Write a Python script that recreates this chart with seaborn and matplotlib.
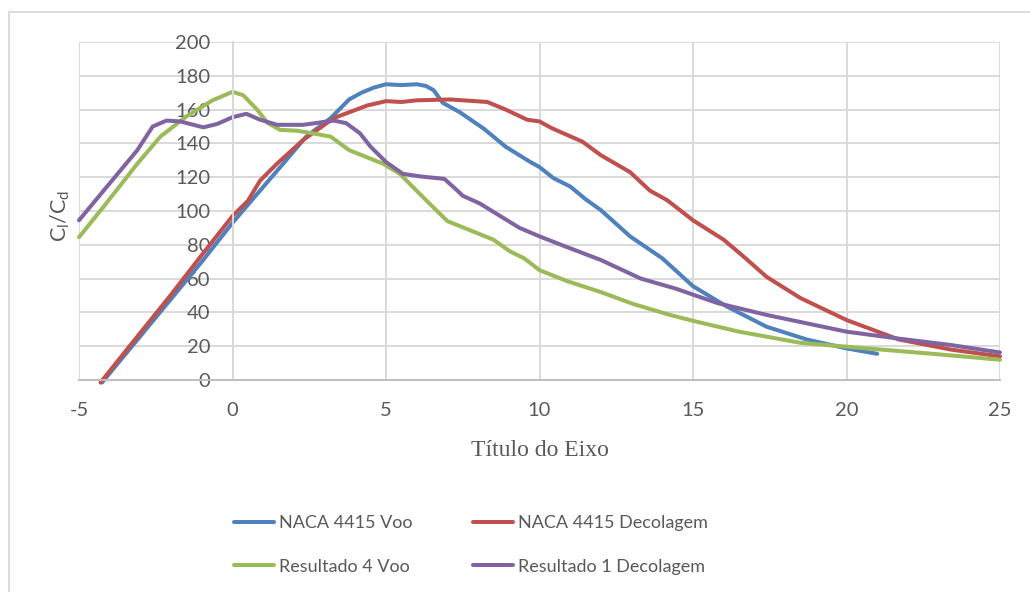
import matplotlib
matplotlib.use("Agg")
import matplotlib.pyplot as plt
import seaborn as sns
import pandas as pd
from matplotlib.lines import Line2D
from matplotlib.patches import Rectangle

# Series names and colours
series_names = ["NACA 4415 Voo", "NACA 4415 Decolagem", "Resultado 4 Voo", "Resultado 1 Decolagem"]
series_colors = ["#4F81BD", "#C0504D", "#9BBB59", "#8064A2"]

# NACA 4415 Voo
naca_voo_x = [-4.25, -3, -2, -1, 0, 0.8, 1.65, 2.4, 3.2, 3.8, 4.2, 4.6, 5.0, 5.5, 6.0, 6.3,
              6.55, 6.85, 7.4, 8.2, 8.9, 9.7, 10.0, 10.45, 11.0, 11.5, 12.0, 12.95, 14.0,
              15.0, 16.1, 17.4, 18.7, 20.0, 21.0]
naca_voo_y = [-1.5, 26, 48, 70, 93, 110, 128, 144, 155, 166, 170, 173, 175, 174.5, 175, 174,
              171.5, 164, 158.5, 148.5, 138, 129, 126, 119.5, 114.5, 107, 100.5, 85, 72,
              55.5, 43.5, 31.5, 24, 18.7, 15.5]

# NACA 4415 Decolagem
naca_dec_x = [-4.3, -3, -2, -1, 0, 0.5, 0.9, 1.45, 2.3, 3.3, 4.4, 5.0, 5.5, 6.0, 7.1, 8.3, 8.9,
              9.6, 10.0, 10.4, 11.4, 12.0, 12.95, 13.6, 14.15, 15.0, 16.0, 16.65, 17.4, 18.5,
              20.0, 21.7, 23.4, 25.0]
naca_dec_y = [-1.5, 28, 50.5, 74, 97, 106, 118, 128, 142, 155, 162.5, 165, 164.5, 165.5, 166,
              164.5, 160, 154, 153, 149, 141, 133, 123, 112, 106.5, 94.5, 83, 73, 61, 48.5,
              35.5, 24, 18, 14]

# Resultado 4 Voo
res4_x = [-5, -4.2, -3.1, -2.35, -1.5, -0.65, 0.0, 0.35, 0.8, 1.15, 1.55, 2.1, 2.6, 3.2, 3.8,
          4.9, 5.45, 6.3, 7.0, 8.3, 8.5, 9.05, 9.5, 10.0, 10.9, 12.0, 13.05, 14.25, 15.0,
          16.5, 18.5, 20.0, 22.8, 25.0]
res4_y = [84.5, 102.5, 128, 144, 156, 165.5, 170.5, 168.5, 160, 152, 148, 147.5, 146, 144, 136,
          128, 122, 106.5, 94, 84.5, 83, 76, 72, 65, 58.5, 52, 45, 38.5, 35, 28.6, 22, 19.7,
          15.5, 12]

# Resultado 1 Decolagem
res1_x = [-5, -4.2, -3.1, -2.6, -2.15, -1.7, -0.95, -0.5, 0.0, 0.45, 0.9, 1.45, 2.3, 3.3, 3.7,
          4.15, 4.5, 5.0, 5.55, 6.1, 6.9, 7.3, 7.5, 8.05, 9.35, 10.0, 10.7, 12.0, 13.3, 14.45,
          15.0, 15.8, 17.4, 20.0, 21.7, 23.4, 25.0]
res1_y = [94.5, 112, 136, 150, 153.5, 153, 149.5, 151.5, 155.5, 157.5, 154, 151, 151, 153.5, 152,
          146, 138, 129, 122, 120.5, 119, 112.5, 109, 104.5, 90, 85, 80, 71, 60, 54, 50.5,
          45.5, 38.5, 28.6, 24.5, 20.7, 16.3]

x_ticks = [-5, 0, 5, 10, 15, 20, 25]
y_ticks = [0, 20, 40, 60, 80, 100, 120, 140, 160, 180, 200]

frames = []
for name, xs, ys in zip(series_names,
                        [naca_voo_x, naca_dec_x, res4_x, res1_x],
                        [naca_voo_y, naca_dec_y, res4_y, res1_y]):
    frames.append(pd.DataFrame({"alpha": xs, "ratio": ys, "serie": name}))
df = pd.concat(frames, ignore_index=True)

sns.set_theme(style="white")
plt.rcParams["font.family"] = ["Lato", "DejaVu Sans"]
plt.rcParams["mathtext.fontset"] = "custom"
plt.rcParams["mathtext.rm"] = "Lato"
plt.rcParams["mathtext.it"] = "Lato"
plt.rcParams["axes.unicode_minus"] = False

text_color = "#595959"
grid_color = "#D9D9D9"

fig = plt.figure(figsize=(10.3, 5.92), dpi=100)
W, H = 1030, 592
ax = fig.add_axes([79 / W, 1 - 380 / H, (1000 - 79) / W, (380 - 42) / H])

sns.lineplot(data=df, x="alpha", y="ratio", hue="serie", hue_order=series_names,
             palette=series_colors, sort=False, estimator=None, linewidth=2.9,
             legend=False, ax=ax)
for ln in ax.get_lines():
    ln.set_solid_capstyle("round")
    ln.set_solid_joinstyle("round")
    ln.set_clip_on(False)

ax.set_xlim(-5, 25)
ax.set_ylim(0, 200)
ax.set_xticks(x_ticks)
ax.set_yticks(y_ticks)
ax.grid(True, color=grid_color, linewidth=1.4)
ax.set_axisbelow(True)
ax.set_xlabel("")
ax.set_ylabel("")

for side in ["top", "right"]:
    ax.spines[side].set_visible(False)
ax.spines["left"].set_position(("data", 0))
ax.spines["left"].set_color(grid_color)
ax.spines["left"].set_linewidth(1.4)
ax.spines["bottom"].set_color("#BFBFBF")
ax.spines["bottom"].set_linewidth(1.4)

ax.tick_params(axis="both", length=0, labelsize=14.5, labelcolor=text_color)
ax.tick_params(axis="y", pad=16)
ax.tick_params(axis="x", pad=16)

fig.text(60 / W, 1 - 216 / H, r"C$_\mathregular{l}$/C$_\mathregular{d}$", rotation=90,
         ha="center", va="center", fontsize=15.5, color=text_color)
fig.text(539.5 / W, 1 - 450 / H, "Título do Eixo", ha="center", va="center",
         family=["Liberation Serif"], fontsize=17, color=text_color)

handles = [Line2D([0], [0], color=c, lw=2.9) for c in series_colors]
order = [0, 2, 1, 3]
fig.legend([handles[i] for i in order], [series_names[i] for i in order], ncol=2,
           loc="center", bbox_to_anchor=(471 / W, 1 - 545 / H), frameon=False,
           fontsize=13, handlelength=2.2, handletextpad=0.3, columnspacing=3.35,
           labelspacing=1.5, labelcolor=text_color)

fig.patches.append(Rectangle((9 / W, -0.1), 1.1, 1 - 12 / H + 0.1, transform=fig.transFigure,
                             fill=False, edgecolor=grid_color, linewidth=1.3))

fig.savefig("out.png", dpi=100, facecolor="white")
